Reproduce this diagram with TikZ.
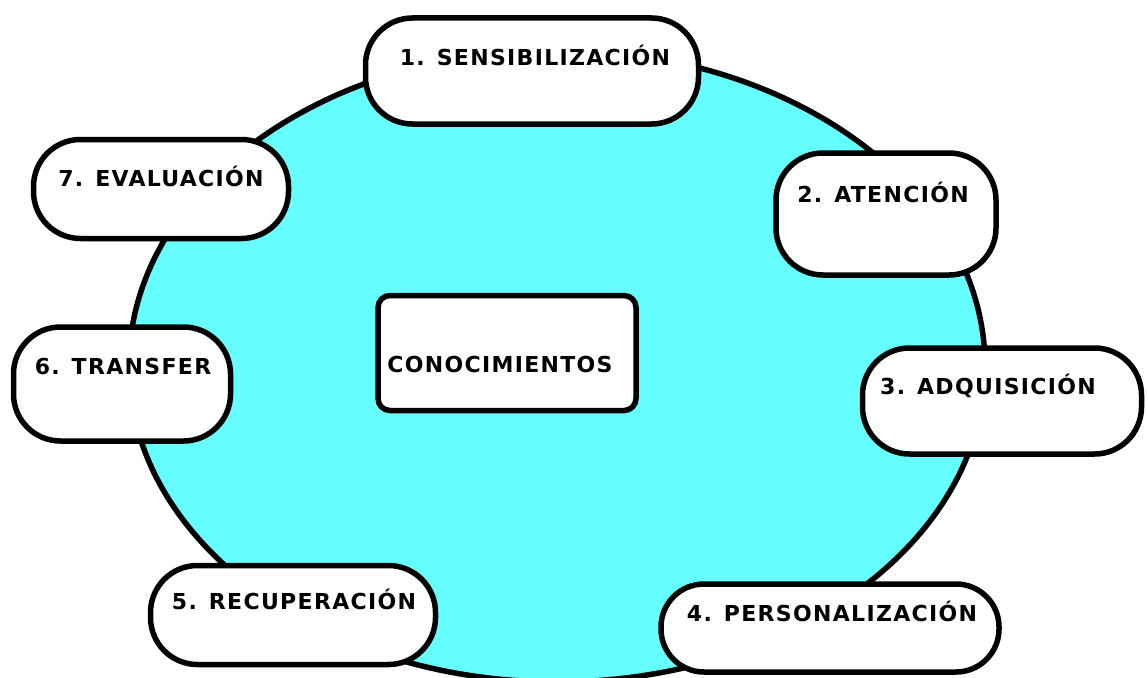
\documentclass[tikz,border=0pt]{standalone}
\usepackage{fontspec}
\setmainfont{DejaVu Sans}
\newfontfamily\lblfont[LetterSpace=6]{DejaVu Sans}
\definecolor{cyanfill}{RGB}{102,255,255}
\tikzset{
  x=1pt,y=-1pt,
  stagebox/.style={draw=black,line width=5.5pt,fill=white,rounded corners=47pt,inner sep=0pt},
  corebox/.style={draw=black,line width=5.5pt,fill=white,rounded corners=12pt,inner sep=0pt},
  lbl/.style={font=\lblfont\fontsize{22}{26}\selectfont\bfseries,inner sep=0pt,anchor=base}
}
\begin{document}
\begin{tikzpicture}
\useasboundingbox (0,0) rectangle (1147,677);
\clip (0,0) rectangle (1147,677);
\draw[line width=5.5pt,fill=cyanfill] (557,366) ellipse [x radius=428pt, y radius=316pt];
% boxes
\node[stagebox,minimum width=333pt,minimum height=106pt] (b1) at (532,71) {};
\node[stagebox,minimum width=220pt,minimum height=122pt] (b2) at (886,214) {};
\node[stagebox,minimum width=279pt,minimum height=106pt] (b3) at (1002,401) {};
\node[stagebox,rounded corners=43pt,minimum width=338pt,minimum height=88pt] (b4) at (830,628) {};
\node[stagebox,minimum width=285pt,minimum height=99pt] (b5) at (293,615) {};
\node[stagebox,minimum width=217pt,minimum height=114pt] (b6) at (122,384) {};
\node[stagebox,minimum width=255pt,minimum height=99pt] (b7) at (161,189) {};
\node[corebox,minimum width=258pt,minimum height=115pt] (c) at (507,353) {};
% labels
\node[lbl] (t1) at (535,65) {1. SENSIBILIZACIÓN};
\node[lbl] (t2) at (883,202) {2. ATENCIÓN};
\node[lbl] (t3) at (988,394) {3. ADQUISICIÓN};
\node[lbl] (t4) at (832,621) {4. PERSONALIZACIÓN};
\node[lbl] (t5) at (294,609) {5. RECUPERACIÓN};
\node[lbl] (t6) at (123,374) {6. TRANSFER};
\node[lbl] (t7) at (161,186) {7. EVALUACIÓN};
\node[lbl] (tc) at (500,372) {CONOCIMIENTOS};
\end{tikzpicture}
\end{document}
